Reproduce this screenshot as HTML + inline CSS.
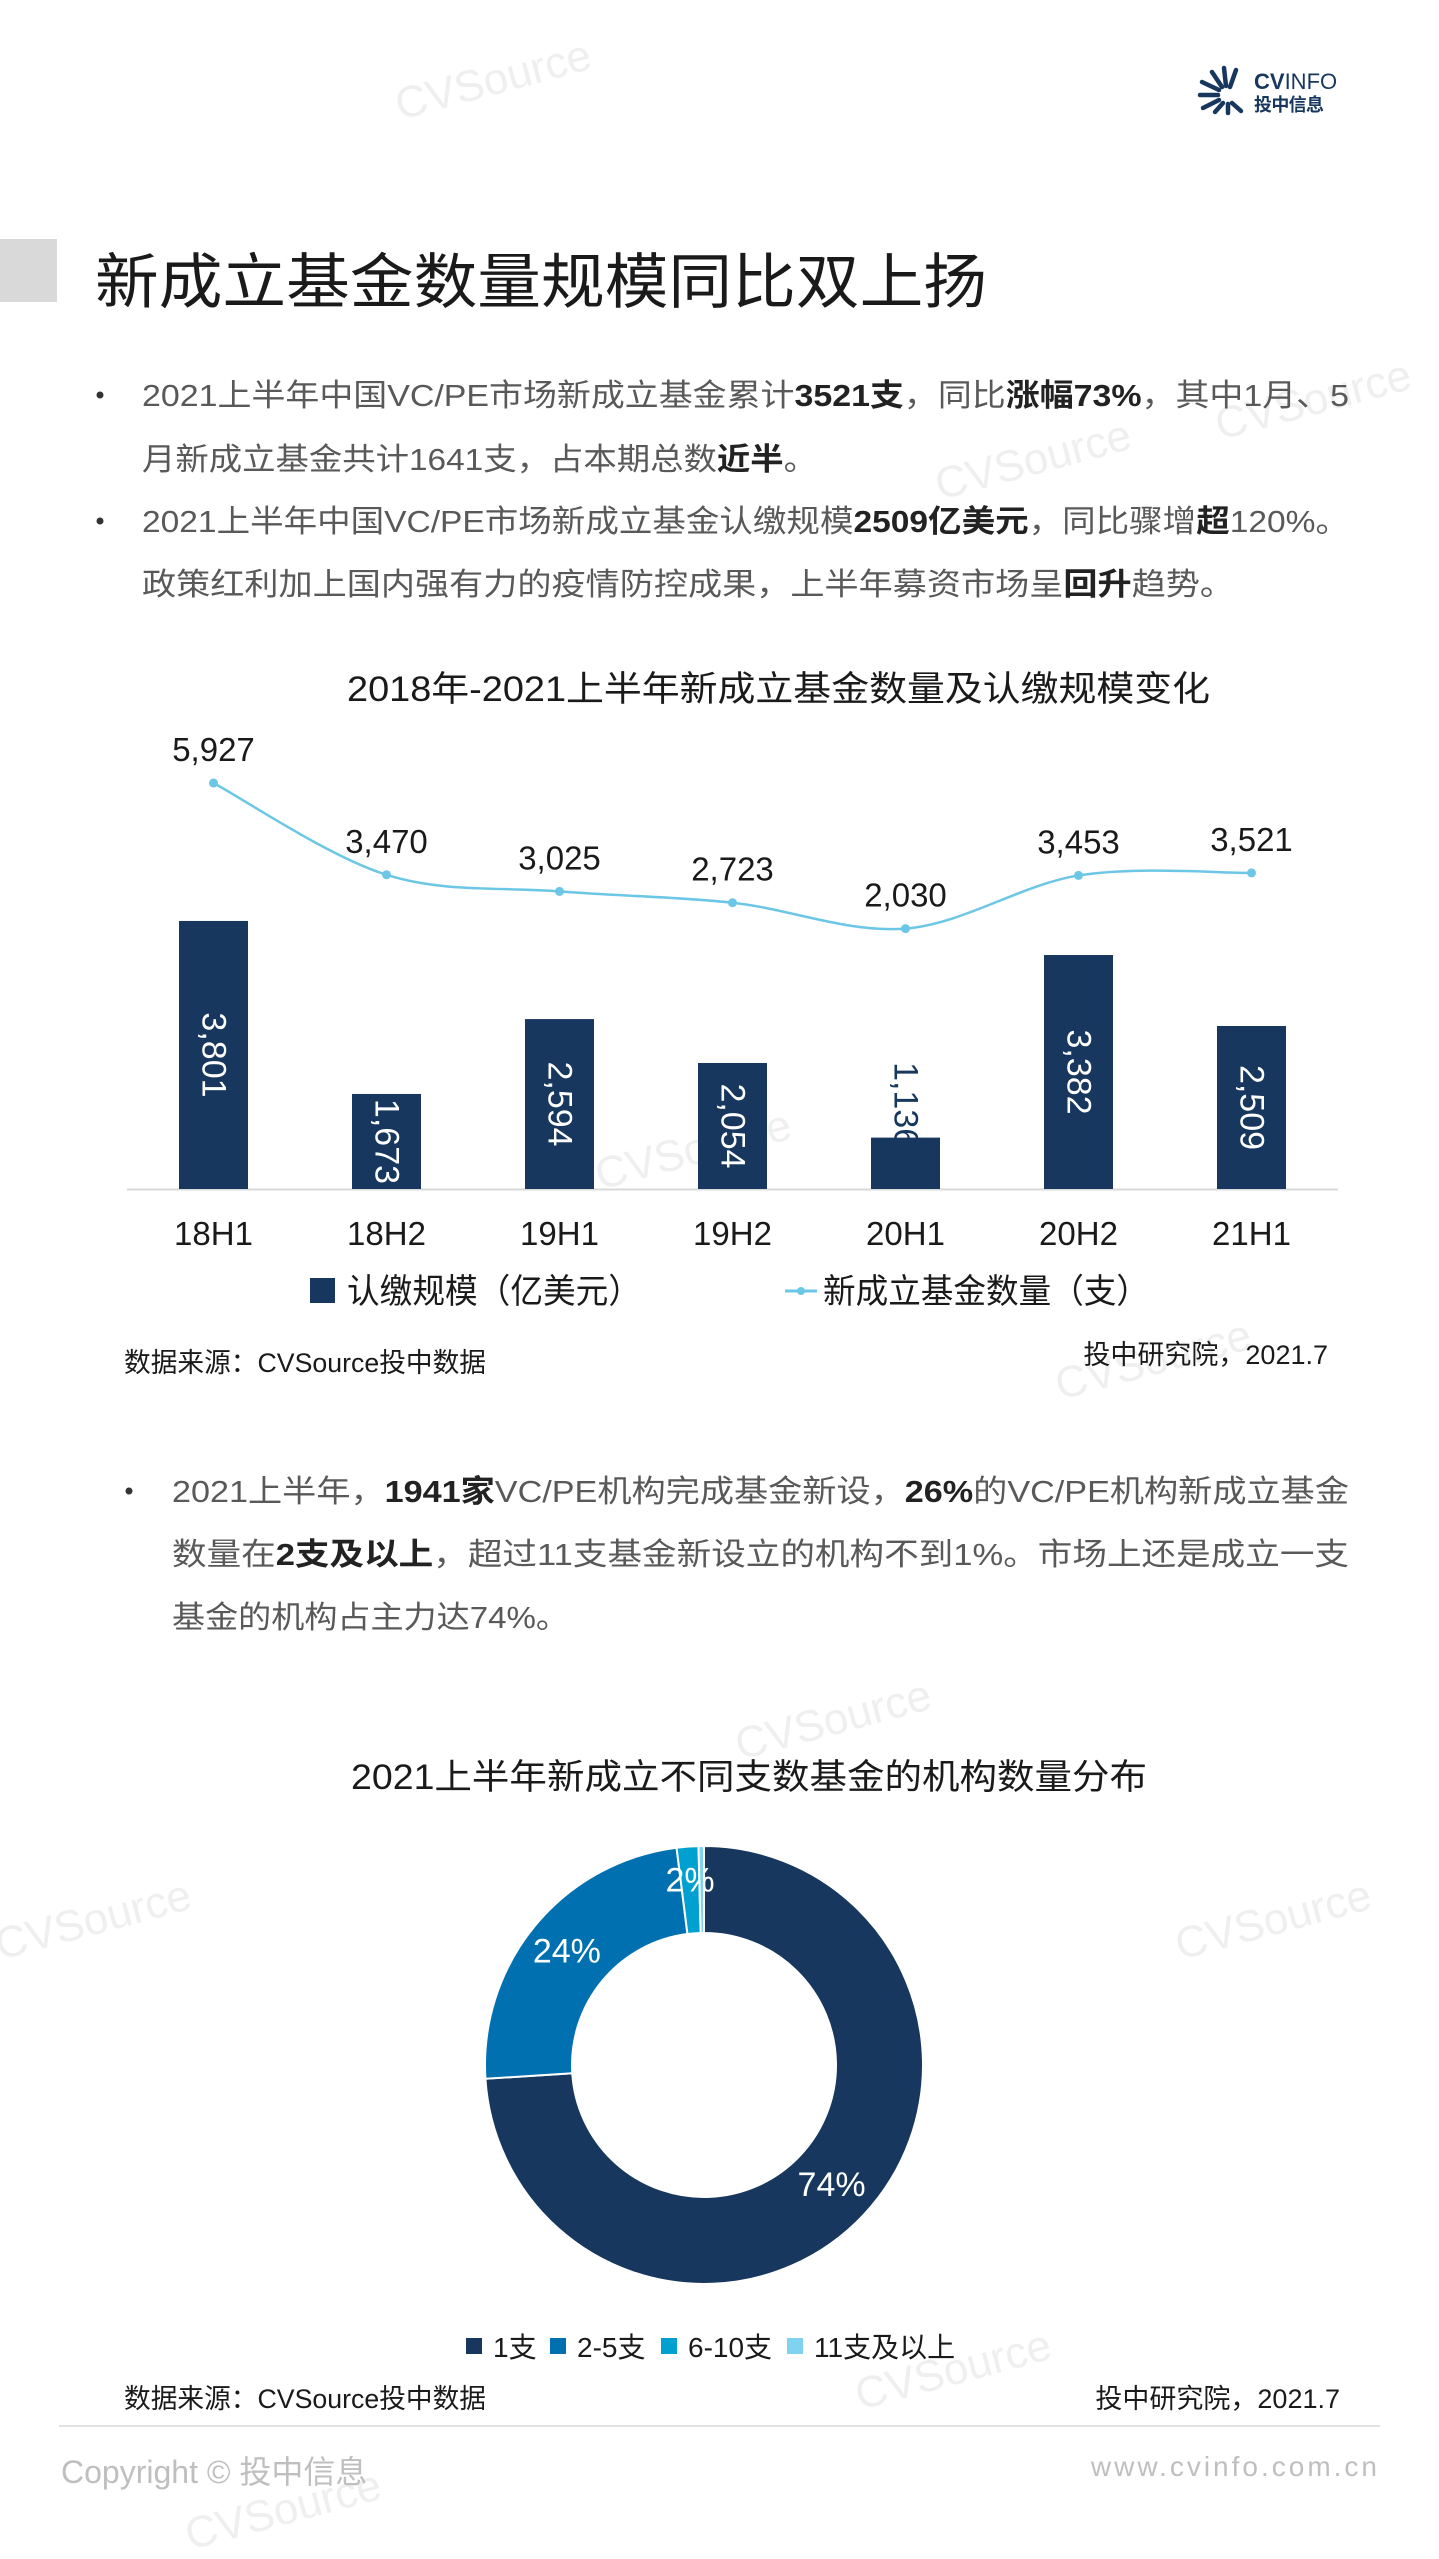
<!DOCTYPE html>
<html><head><meta charset="utf-8">
<style>
html,body{margin:0;padding:0;background:#fff;}
svg{display:block;font-family:"Liberation Sans","Noto Sans CJK SC",sans-serif;}
</style></head>
<body>
<svg id="page" width="1439" height="2559" viewBox="0 0 1439 2559" xmlns="http://www.w3.org/2000/svg">
<rect width="1439" height="2559" fill="#ffffff"/>
<g fill="#efefef" font-size="44" font-family="Liberation Sans, sans-serif">
<text x="400" y="120" transform="rotate(-15 400 120)">CVSource</text>
<text x="940" y="500" transform="rotate(-15 940 500)">CVSource</text>
<text x="1220" y="440" transform="rotate(-15 1220 440)">CVSource</text>
<text x="600" y="1190" transform="rotate(-15 600 1190)">CVSource</text>
<text x="1060" y="1400" transform="rotate(-15 1060 1400)">CVSource</text>
<text x="740" y="1760" transform="rotate(-15 740 1760)">CVSource</text>
<text x="0" y="1960" transform="rotate(-15 0 1960)">CVSource</text>
<text x="1180" y="1960" transform="rotate(-15 1180 1960)">CVSource</text>
<text x="860" y="2410" transform="rotate(-15 860 2410)">CVSource</text>
<text x="190" y="2550" transform="rotate(-15 190 2550)">CVSource</text>
</g>

<g>
<g stroke="#17375e" stroke-width="4.5" stroke-linecap="round">
<line x1="1222" y1="87" x2="1212" y2="72"/><line x1="1226" y1="86" x2="1224" y2="68"/><line x1="1230" y1="87" x2="1236" y2="70"/>
<line x1="1219" y1="90" x2="1202" y2="82"/><line x1="1218" y1="95" x2="1200" y2="95"/><line x1="1219" y1="100" x2="1203" y2="108"/>
<line x1="1223" y1="103" x2="1215" y2="112"/><line x1="1228" y1="104" x2="1228" y2="113"/><line x1="1232" y1="103" x2="1241" y2="111"/>
</g>
<text x="1254" y="89" font-size="22" fill="#17375e"><tspan font-weight="bold">CV</tspan>INFO</text>
<text x="1254" y="111" font-size="18" font-weight="bold" fill="#17375e" textLength="70">投中信息</text>
</g>

<rect x="0" y="239" width="57" height="63" fill="#d9d9d9"/>
<text x="95" y="303" font-size="60" fill="#1a1a1a" textLength="892" lengthAdjust="spacingAndGlyphs">新成立基金数量规模同比双上扬</text>

<g font-size="31" fill="#595959">
<circle cx="100" cy="395" r="3.5" fill="#333"/>
<text x="142" y="406" textLength="1207" lengthAdjust="spacingAndGlyphs">2021上半年中国VC/PE市场新成立基金累计<tspan fill="#222" font-weight="bold">3521支</tspan>，同比<tspan fill="#222" font-weight="bold">涨幅73%</tspan>，其中1月、5</text>
<text x="142" y="470" textLength="675" lengthAdjust="spacingAndGlyphs">月新成立基金共计1641支，占本期总数<tspan fill="#222" font-weight="bold">近半</tspan>。</text>
<circle cx="100" cy="521" r="3.5" fill="#333"/>
<text x="142" y="532" textLength="1207" lengthAdjust="spacingAndGlyphs">2021上半年中国VC/PE市场新成立基金认缴规模<tspan fill="#222" font-weight="bold">2509亿美元</tspan>，同比骤增<tspan fill="#222" font-weight="bold">超</tspan>120%。</text>
<text x="142" y="595" textLength="1092" lengthAdjust="spacingAndGlyphs">政策红利加上国内强有力的疫情防控成果，上半年募资市场呈<tspan fill="#222" font-weight="bold">回升</tspan>趋势。</text>
</g>

<text x="347" y="701" font-size="35" fill="#1a1a1a" textLength="863" lengthAdjust="spacingAndGlyphs">2018年-2021上半年新成立基金数量及认缴规模变化</text>
<line x1="127" y1="1189.5" x2="1338" y2="1189.5" stroke="#d9d9d9" stroke-width="2"/>
<g id="barchart"></g>

<g font-size="34" fill="#1a1a1a">
<rect x="310" y="1278" width="25" height="25" fill="#17375e"/>
<text x="347" y="1303" textLength="294" lengthAdjust="spacingAndGlyphs">认缴规模（亿美元）</text>
<line x1="785" y1="1291" x2="817" y2="1291" stroke="#6cc7e6" stroke-width="3"/>
<circle cx="801" cy="1291" r="4" fill="#6cc7e6"/>
<text x="823" y="1303" textLength="326" lengthAdjust="spacingAndGlyphs">新成立基金数量（支）</text>
</g>
<text x="124" y="1372" font-size="27" fill="#1a1a1a" textLength="362" lengthAdjust="spacingAndGlyphs">数据来源：CVSource投中数据</text>
<text x="1328" y="1364" font-size="27" fill="#1a1a1a" text-anchor="end">投中研究院，2021.7</text>

<g font-size="31" fill="#595959">
<circle cx="129" cy="1491" r="3.5" fill="#333"/>
<text x="172" y="1502" textLength="1177" lengthAdjust="spacingAndGlyphs">2021上半年，<tspan fill="#222" font-weight="bold">1941家</tspan>VC/PE机构完成基金新设，<tspan fill="#222" font-weight="bold">26%</tspan>的VC/PE机构新成立基金</text>
<text x="172" y="1565" textLength="1177" lengthAdjust="spacingAndGlyphs">数量在<tspan fill="#222" font-weight="bold">2支及以上</tspan>，超过11支基金新设立的机构不到1%。市场上还是成立一支</text>
<text x="172" y="1628" textLength="397" lengthAdjust="spacingAndGlyphs">基金的机构占主力达74%。</text>
</g>

<text x="351" y="1789" font-size="35" fill="#1a1a1a" textLength="796" lengthAdjust="spacingAndGlyphs">2021上半年新成立不同支数基金的机构数量分布</text>
<g id="donut"></g>
<g id="donutLegend" font-size="28" fill="#1a1a1a"></g>

<text x="124" y="2408" font-size="27" fill="#1a1a1a" textLength="362" lengthAdjust="spacingAndGlyphs">数据来源：CVSource投中数据</text>
<text x="1340" y="2408" font-size="27" fill="#1a1a1a" text-anchor="end">投中研究院，2021.7</text>
<line x1="59" y1="2426" x2="1380" y2="2426" stroke="#d9d9d9" stroke-width="1.5"/>
<text x="61" y="2483" font-size="32" fill="#bfbfbf">Copyright © 投中信息</text>
<text x="1380" y="2476" font-size="28" fill="#bfbfbf" text-anchor="end" letter-spacing="3">www.cvinfo.com.cn</text>
</svg>
<script>
const categories = ["18H1","18H2","19H1","19H2","20H1","20H2","21H1"];
const amountValues = [3801,1673,2594,2054,1136,3382,2509];
const countValues = [5927,3470,3025,2723,2030,3453,3521];
const amountLabels = ["3,801","1,673","2,594","2,054","1,136","3,382","2,509"];
const countLabels = ["5,927","3,470","3,025","2,723","2,030","3,453","3,521"];
const donutCategories = ["1支","2-5支","6-10支","11支及以上"];
const donutValues = [74,24,1.6,0.4];
const donutLabels = ["74%","24%","2%",""];

const NS = "http://www.w3.org/2000/svg";
function mk(tag, attrs, parent){const e=document.createElementNS(NS,tag);for(const k in attrs)e.setAttribute(k,attrs[k]);parent.appendChild(e);return e;}
const xPos = i => 213.5 + i*173;
const yBar = v => 1189 - (v-504)*0.0813;
const yLine = v => 928.6 - (v-2030)*0.03736;

const bc = document.getElementById('barchart');
amountValues.forEach((v,i)=>{
  const top=yBar(v), cx=xPos(i);
  const r=mk('rect',{x:cx-34.5,y:top,width:69,height:1189-top,fill:'#17375e'},bc);
  
  
  const h=1189-top; const inside=h>80;
  const cy=inside? top+h/2 : top-33;
  const t=mk('text',{x:cx,y:cy,'font-size':34,fill:inside?'#fff':'#17375e','text-anchor':'middle','dominant-baseline':'central',transform:`rotate(90 ${cx} ${cy})`},bc);
  t.textContent=amountLabels[i];
  
  
  const xl=mk('text',{x:cx,y:1245,'font-size':33,fill:'#1a1a1a','text-anchor':'middle'},bc);
  xl.textContent=categories[i];
  
  
});
const pts=countValues.map((v,i)=>[xPos(i),yLine(v)]);
let d=`M${pts[0][0]},${pts[0][1]}`;
for(let i=0;i<pts.length-1;i++){
  const p0=pts[i-1]||pts[i],p1=pts[i],p2=pts[i+1],p3=pts[i+2]||p2;
  const c1=[p1[0]+(p2[0]-p0[0])/6,p1[1]+(p2[1]-p0[1])/6];
  const c2=[p2[0]-(p3[0]-p1[0])/6,p2[1]-(p3[1]-p1[1])/6];
  d+=` C${c1[0]},${c1[1]} ${c2[0]},${c2[1]} ${p2[0]},${p2[1]}`;
}
const ln=mk('path',{d:d,fill:'none',stroke:'#6cc7e6','stroke-width':2.5},bc);


pts.forEach((p,i)=>{
  const c=mk('circle',{cx:p[0],cy:p[1],r:4.5,fill:'#6cc7e6'},bc);
  
  
  const t=mk('text',{x:p[0],y:p[1]-22,'font-size':33,fill:'#1a1a1a','text-anchor':'middle'},bc);
  t.textContent=countLabels[i];
  
  
});

// donut
const dg=document.getElementById('donut');
const colors=['#17375e','#0070b0','#00a0d0','#7fd3ee'];
const CX=704,CY=2065,RO=219,RI=132;
const total=donutValues.reduce((a,b)=>a+b,0);
let ang=0;
function pt(r,a){return [CX+r*Math.sin(a),CY-r*Math.cos(a)];}
donutValues.forEach((v,i)=>{
  const a0=ang, a1=ang+v/total*2*Math.PI; ang=a1;
  const large=(a1-a0)>Math.PI?1:0;
  const [x0,y0]=pt(RO,a0),[x1,y1]=pt(RO,a1),[x2,y2]=pt(RI,a1),[x3,y3]=pt(RI,a0);
  const s=mk('path',{d:`M${x0},${y0} A${RO},${RO} 0 ${large} 1 ${x1},${y1} L${x2},${y2} A${RI},${RI} 0 ${large} 0 ${x3},${y3} Z`,fill:colors[i],stroke:'#fff','stroke-width':2},dg);
  
  
  if(donutLabels[i]){
    const mid=(a0+a1)/2;
    const rr = i===0? 175 : (i===1? 178 : 185);
    const [lx,ly]=pt(rr,mid);
    const t=mk('text',{x:lx,y:ly,'font-size':34,fill:'#fff','text-anchor':'middle','dominant-baseline':'central'},dg);
    t.textContent=donutLabels[i];
    
    
  }
});
const lg=document.getElementById('donutLegend');
const lx=[466,550,661,787];
donutCategories.forEach((c,i)=>{
  const r=mk('rect',{x:lx[i],y:2338,width:16,height:16,fill:colors[i]},lg);
  
  
  const t=mk('text',{x:lx[i]+27,y:2357},lg);
  t.textContent=c;
  
  
});
</script>
</body></html>
